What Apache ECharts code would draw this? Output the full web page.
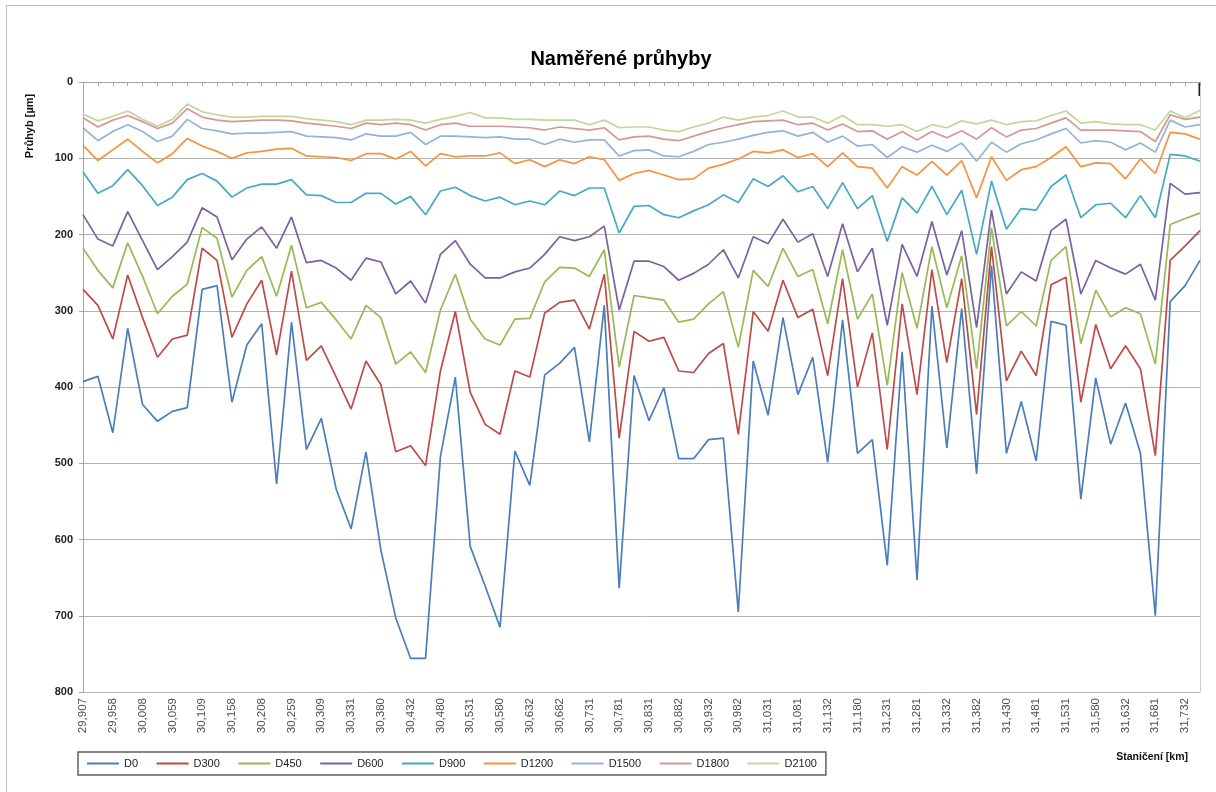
<!DOCTYPE html>
<html>
<head>
<meta charset="utf-8">
<title>Naměřené průhyby</title>
<script src="https://cdn.jsdelivr.net/npm/echarts@6/dist/echarts.min.js"></script>
<style>
  html, body { margin: 0; padding: 0; background: #fff; }
  #chart { width: 1216px; height: 792px; }
</style>
</head>
<body>
<div id="chart"></div>
<script>
// Staničení [km] – measurement points (labels shown on every second point)
const stations = [
  '29,907','29,932','29,958','29,983','30,008','30,033','30,059','30,084','30,109','30,133',
  '30,158','30,183','30,208','30,233','30,259','30,284','30,309','30,320','30,331','30,355',
  '30,380','30,406','30,432','30,456','30,480','30,505','30,531','30,555','30,580','30,606',
  '30,632','30,657','30,682','30,706','30,731','30,756','30,781','30,806','30,831','30,856',
  '30,882','30,907','30,932','30,957','30,982','31,006','31,031','31,056','31,081','31,106',
  '31,132','31,156','31,180','31,205','31,231','31,256','31,281','31,306','31,332','31,357',
  '31,382','31,406','31,430','31,455','31,481','31,506','31,531','31,555','31,580','31,606',
  '31,632','31,656','31,681','31,706','31,732','31,757'
];

// Průhyb [µm] per geophone distance
const D0 = [393,386,460,323,423,445,432,427,272,267,420,345,317,527,315,482,441,534,586,485,
  614,703,756,756,491,387,609,661,715,484,529,384,369,348,472,293,664,385,444,
  401,494,494,469,467,695,366,437,309,410,361,499,312,487,469,634,354,653,
  294,480,297,514,241,487,419,497,314,319,547,388,475,421,487,700,288,267,234];
const D300 = [272,293,337,253,309,361,337,332,218,234,335,291,260,358,248,365,346,387,429,366,
  397,485,477,503,379,301,407,449,462,379,387,303,289,286,324,252,467,327,340,
  335,379,381,356,343,462,301,327,260,309,298,385,258,400,329,482,291,410,
  246,368,258,436,216,392,353,385,266,256,420,318,376,346,376,490,234,215,195];
const D450 = [218,247,270,211,255,304,281,265,191,205,282,247,229,281,214,296,289,312,337,293,
  309,370,354,381,299,252,311,337,345,311,310,262,243,244,255,220,374,280,283,
  286,315,311,291,275,348,247,268,218,255,246,317,220,311,278,398,250,323,
  216,296,228,376,191,320,301,320,234,216,343,273,308,296,304,370,187,179,172];
const D600 = [174,206,215,170,208,246,229,210,165,177,233,206,190,218,177,237,234,244,260,231,
  236,278,261,290,226,208,239,257,257,249,244,226,203,208,203,189,299,235,235,
  242,260,251,239,220,257,203,212,180,210,199,255,186,249,218,319,213,255,
  183,253,195,322,168,278,249,261,195,180,278,234,244,252,239,286,133,147,145];
const D900 = [118,146,136,115,136,162,151,128,120,130,151,139,134,134,128,148,149,158,158,146,
  146,160,150,174,143,138,149,156,151,161,156,161,143,149,139,139,198,163,162,
  174,178,169,161,148,158,127,137,123,144,137,166,132,166,149,209,152,172,
  137,174,142,226,130,193,166,168,137,122,178,161,159,178,149,178,95,97,104];
const D1200 = [83,103,89,75,91,106,94,74,84,91,100,93,91,88,87,97,98,99,103,94,
  94,101,91,110,94,98,97,97,93,107,102,111,102,107,98,102,129,120,116,
  122,128,127,113,108,101,91,93,89,99,94,111,93,111,113,139,111,122,
  104,122,103,152,98,129,115,111,99,85,111,106,107,127,101,120,66,68,75];
const D1500 = [60,77,65,56,65,78,71,49,61,64,68,67,67,66,65,71,72,73,76,68,
  71,71,66,82,71,71,72,73,72,75,75,82,75,79,76,76,97,90,89,
  97,98,91,82,79,75,70,66,64,71,66,79,71,84,82,99,85,92,
  83,91,80,104,79,92,81,76,68,61,80,77,79,89,80,92,50,59,56];
const D1800 = [47,59,50,44,52,61,54,35,46,50,52,51,50,50,51,54,56,58,61,54,
  56,54,56,63,56,54,58,58,58,59,60,63,59,61,63,60,76,72,71,
  75,77,71,65,60,56,52,51,50,56,54,63,55,65,64,75,65,76,
  65,73,64,75,60,72,63,61,54,47,63,63,63,64,65,78,43,49,46];
const D2100 = [42,51,45,38,49,58,49,29,39,43,46,46,45,45,45,48,50,52,56,50,
  50,49,50,54,49,45,40,47,47,49,49,50,50,50,56,50,60,59,59,
  63,65,59,54,46,50,46,44,38,46,46,54,44,56,56,58,56,65,
  56,60,51,55,50,56,52,51,44,38,54,52,55,56,56,63,38,47,37];

const seriesNames = ['D0','D300','D450','D600','D900','D1200','D1500','D1800','D2100'];
const seriesData = [D0, D300, D450, D600, D900, D1200, D1500, D1800, D2100];
const seriesColors = ['#4a7ebb','#be4b48','#98b954','#7d60a0','#46aac5','#f69240','#95b3d7','#d99694','#c3d69b'];

// Y axis range (inverted: 0 at the top)
const yMin = 0, yMax = 800, yStep = 100;

const FONT = '"Liberation Sans", Arial, sans-serif';

const chart = echarts.init(document.getElementById('chart'), null, { renderer: 'canvas' });

chart.setOption({
  animation: false,
  backgroundColor: '#ffffff',
  title: {
    text: 'Naměřené průhyby',
    left: 616,
    textAlign: 'center',
    top: 44,
    textStyle: { fontFamily: FONT, fontSize: 20, fontWeight: 'bold', color: '#000' }
  },
  grid: { left: 83, right: 16, top: 82, bottom: 100, containLabel: false },
  legend: {
    data: seriesNames,
    left: 78,
    top: 752,
    orient: 'horizontal',
    padding: [6, 9],
    itemGap: 18.5,
    itemWidth: 32,
    itemHeight: 2,
    icon: 'rect',
    borderColor: '#606060',
    borderWidth: 1.5,
    textStyle: { fontFamily: FONT, fontSize: 11, color: '#222' }
  },
  xAxis: {
    type: 'category',
    data: stations,
    boundaryGap: false,
    axisLine: { show: true, lineStyle: { color: '#a6a6a6', width: 1 } },
    axisTick: { show: true, interval: 0, length: 4, lineStyle: { color: '#a6a6a6' } },
    axisLabel: {
      interval: 1,
      rotate: 90,
      margin: 6,
      fontFamily: FONT,
      fontSize: 11.5,
      color: '#505050'
    },
    splitLine: { show: false }
  },
  yAxis: [
    {
      type: 'value',
      inverse: true,
      min: yMin,
      max: yMax,
      interval: yStep,
      axisLine: { show: true, lineStyle: { color: '#a6a6a6', width: 1 } },
      axisTick: { show: true, length: 4, lineStyle: { color: '#a6a6a6' } },
      axisLabel: {
        margin: 10,
        fontFamily: FONT,
        fontSize: 11,
        fontWeight: 'bold',
        color: '#222'
      },
      splitLine: { show: true, showMinLine: false, lineStyle: { color: '#b4b4b4', width: 1 } }
    },
    {
      type: 'value',
      position: 'right',
      inverse: true,
      min: yMin,
      max: yMax,
      interval: yStep,
      axisLine: { show: true, lineStyle: { color: '#cfcfcf', width: 1 } },
      axisTick: { show: false },
      axisLabel: { show: false },
      splitLine: { show: false }
    }
  ],
  series: seriesNames.map((name, k) => ({
    name: name,
    type: 'line',
    data: seriesData[k],
    yAxisIndex: 0,
    showSymbol: false,
    symbol: 'none',
    smooth: false,
    color: seriesColors[k],
    lineStyle: { width: 1.7, color: seriesColors[k] },
    emphasis: { disabled: true }
  })),
  graphic: [
    {
      type: 'rect',
      silent: true,
      shape: { x: 6.5, y: 5.5, width: 1230, height: 800 },
      style: { fill: 'none', stroke: '#bdbdbd', lineWidth: 1 }
    },
    {
      type: 'text',
      silent: true,
      x: 30,
      y: 126,
      rotation: Math.PI / 2,
      style: {
        text: 'Průhyb [µm]',
        fontFamily: FONT,
        fontSize: 11,
        fontWeight: 'bold',
        fill: '#111',
        align: 'center',
        verticalAlign: 'middle'
      }
    },
    {
      type: 'text',
      silent: true,
      x: 1188,
      y: 757,
      style: {
        text: 'Staničení [km]',
        fontFamily: FONT,
        fontSize: 10.5,
        fontWeight: 'bold',
        fill: '#111',
        align: 'right',
        verticalAlign: 'middle'
      }
    },
    {
      type: 'line',
      silent: true,
      shape: { x1: 1199.5, y1: 82, x2: 1199.5, y2: 96 },
      style: { stroke: '#222', lineWidth: 2 }
    }
  ]
});
</script>
</body>
</html>
